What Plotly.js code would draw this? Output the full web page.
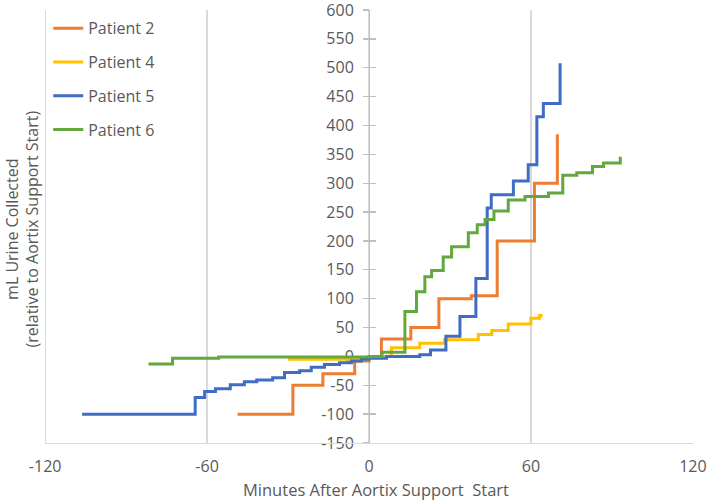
<!DOCTYPE html>
<html>
<head>
<meta charset="utf-8">
<script src="https://cdn.plot.ly/plotly-3.0.1.min.js"></script>
<style>html,body{margin:0;padding:0;background:#fff;}#chart{width:709px;height:501px;}</style>
</head>
<body>
<div id="chart"></div>
<script>
// Patient 2 (orange)
const p2x = [-48.7, -28.2, -17.1, -5.3, 0, 4.6, 15.5, 25.9, 37.9, 47.5, 61.3, 69.8];
const p2y = [-100, -50, -30, -8, 0, 30, 50, 100, 105, 200, 300, 385];
// Patient 4 (gold)
const p4x = [-30, 0, 8.3, 18.8, 28, 40.5, 45.5, 51.6, 60, 63.2, 64.3];
const p4y = [-5, 0, 15, 23, 29, 38, 45, 56, 66, 71, 71];
// Patient 5 (blue)
const p5x = [-106.3, -64.4, -60.9, -56.9, -51.4, -46.2, -41.6, -35.7, -31.3, -25.7, -21.4, -16.5, -10.9, -6.5, -2.8, 0, 6.5, 18.8, 22.8, 28.5, 33.7, 39.6, 43.8, 45.3, 53.5, 59, 62.2, 64.6, 70.8];
const p5y = [-100, -71, -61, -56, -49, -44, -41, -37, -28, -25, -19, -14, -11, -8, -5, -3, 0, 3, 11, 35, 69, 135, 257, 280, 304, 332, 415, 438, 508];
// Patient 6 (green)
const p6x = [-81.7, -72.8, -55.7, 0, 4.8, 13.3, 17.6, 20.7, 23.2, 27.5, 30.6, 36.8, 40.1, 43, 46.3, 51.6, 57.8, 66.5, 71.8, 77, 82.8, 86.9, 93.1];
const p6y = [-13, -3, -1, 0, 7, 78, 112, 138, 149, 172, 190, 214, 228, 237, 252, 271, 277, 283, 314, 318, 329, 335, 346];

const seriesNames = ['Patient 2', 'Patient 4', 'Patient 5', 'Patient 6'];
const seriesColors = ['#ED7D31', '#FFC000', '#3F6CC4', '#62A83C'];
const xTickVals = [-120, -60, 0, 60, 120];
const yTickVals = [-150, -100, -50, 0, 50, 100, 150, 200, 250, 300, 350, 400, 450, 500, 550, 600];

const xs = [p2x, p4x, p5x, p6x];
const ys = [p2y, p4y, p5y, p6y];

const traces = xs.map((x, i) => ({
  type: 'scatter', mode: 'lines', x: x, y: ys[i],
  name: seriesNames[i], legendgroup: 'g' + i,
  line: {shape: 'hv', color: seriesColors[i], width: 3},
  hoverinfo: 'skip'
}));
traces.push({type: 'scatter', mode: 'lines', x: [], y: [], yaxis: 'y2', showlegend: false, hoverinfo: 'skip'});
traces.push({type: 'scatter', mode: 'lines', x: [], y: [], yaxis: 'y3', showlegend: false, hoverinfo: 'skip'});

const yRange = [-150, 600.05];

const layout = {
  width: 709, height: 501,
  margin: {l: 45, r: 16, t: 10, b: 58, pad: 0},
  paper_bgcolor: '#ffffff', plot_bgcolor: '#ffffff',
  font: {family: 'Open Sans, sans-serif', size: 16, color: '#595959'},
  showlegend: true,
  xaxis: {
    range: [-120.05, 120.05], tickvals: xTickVals, ticktext: xTickVals.map(String),
    showgrid: true, gridcolor: '#D9D9D9', gridwidth: 1.3,
    zeroline: false, showline: true, linecolor: '#D9D9D9', linewidth: 1.3,
    ticks: '', ticklabelstandoff: 8,
    fixedrange: true
  },
  yaxis: {
    range: yRange, tickvals: yTickVals, ticktext: yTickVals.map(String),
    anchor: 'free', position: 0.5,
    showgrid: false, zeroline: false, showline: true, linecolor: '#BFBFBF', linewidth: 1.3,
    ticks: 'outside', ticklen: 6, tickcolor: '#BFBFBF', tickwidth: 1.3,
    ticklabelstandoff: 6, ticklabeloverflow: 'allow', layer: 'below traces', fixedrange: true
  },
  yaxis2: {
    range: yRange, tickvals: yTickVals, overlaying: 'y',
    anchor: 'free', position: 0.5,
    showgrid: false, zeroline: false, showline: false,
    ticks: 'inside', ticklen: 6, tickcolor: '#BFBFBF', tickwidth: 1.3,
    showticklabels: false, layer: 'below traces', fixedrange: true
  },
  yaxis3: {
    range: yRange, overlaying: 'y',
    anchor: 'free', position: 0,
    showgrid: false, zeroline: false, showline: true, linecolor: '#D9D9D9', linewidth: 1.3,
    ticks: '', showticklabels: false, layer: 'below traces', fixedrange: true
  },
  legend: {
    x: 0.005, y: 0.997, xanchor: 'left', yanchor: 'top',
    bgcolor: 'rgba(0,0,0,0)', tracegroupgap: 10, itemwidth: 30,
    font: {size: 16, color: '#595959'}
  },
  annotations: [{
    text: 'mL Urine Collected<br>(relative to Aortix Support Start)',
    textangle: -90, xref: 'paper', yref: 'paper', x: 0, y: 0.5,
    xanchor: 'center', yanchor: 'middle', xshift: -23, yshift: -3, showarrow: false,
    font: {size: 16, color: '#595959'}
  }, {
    text: 'Minutes After Aortix Support\u00a0 Start',
    xref: 'paper', yref: 'paper', x: 0.5115, y: -0.1065,
    xanchor: 'center', yanchor: 'middle', showarrow: false,
    font: {size: 16.5, color: '#595959'}
  }]
};

Plotly.newPlot('chart', traces, layout, {displayModeBar: false, staticPlot: true});
</script>
</body>
</html>
